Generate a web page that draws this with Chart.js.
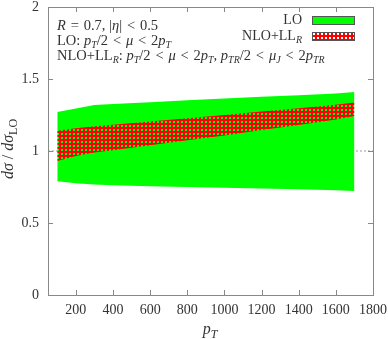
<!DOCTYPE html>
<html lang="en">
<head>
<meta charset="UTF-8">
<title>LO / NLO+LL ratio</title>
<style>
  body { margin: 0; background: #fff; }
  #wrap { width: 388px; height: 339px; }
</style>
</head>
<body>
<div id="wrap"><canvas id="myChart" width="388" height="339"></canvas></div>
<script src="https://cdn.jsdelivr.net/npm/chart.js"></script>
<script>
// data
var ptValues = [100, 200, 300, 400, 600, 800, 1000, 1200, 1400, 1600, 1700];
var loUpper  = [1.27, 1.295, 1.32, 1.326, 1.339, 1.352, 1.364, 1.376, 1.387, 1.399, 1.41];
var loLower  = [0.79, 0.776, 0.768, 0.762, 0.756, 0.750, 0.745, 0.740, 0.734, 0.728, 0.723];
var nloUpper = [1.14, 1.158, 1.172, 1.182, 1.205, 1.228, 1.25, 1.275, 1.297, 1.322, 1.337];
var nloLower = [0.93, 0.965, 0.99, 1.005, 1.04, 1.075, 1.108, 1.145, 1.18, 1.218, 1.243];
var xTicks = [200, 400, 600, 800, 1000, 1200, 1400, 1600, 1800];
var yTicks = [0, 0.5, 1, 1.5, 2];
var xRange = [50, 1800];
var yRange = [0, 2];
var refLevel = 1;

var serif = '"Liberation Serif", "DejaVu Serif", serif';
var textColor = '#333';
var frameColor = '#888';
var sp = '\u2004'; // math-ish spacing round relations

function pts(ys) {
    return ptValues.map(function (x, i) { return { x: x, y: ys[i] }; });
}

// red cross-hatch, holes let the green show through
var tile = document.createElement('canvas');
tile.width = 4; tile.height = 4;
var tctx = tile.getContext('2d');
tctx.fillStyle = '#ff0000';
tctx.fillRect(0, 0, 4, 4);
tctx.clearRect(1, 1, 2, 2);
var hatch = document.getElementById('myChart').getContext('2d').createPattern(tile, 'repeat');

// draw text made of pieces: r roman, i italic, rsub / isub subscripts
function drawRich(ctx, x, y, parts, size, align) {
    function fontFor(s) {
        var sub = s.indexOf('sub') >= 0;
        var sz = sub ? Math.round(size * 0.72) : size;
        return (s[0] == 'i' ? 'italic ' : '') + sz + 'px ' + serif;
    }
    var w = 0;
    parts.forEach(function (p) { ctx.font = fontFor(p[1]); w += ctx.measureText(p[0]).width; });
    var cx = x;
    if (align == 'right') cx = x - w;
    if (align == 'center') cx = x - w / 2;
    ctx.textAlign = 'left';
    ctx.textBaseline = 'alphabetic';
    parts.forEach(function (p) {
        ctx.font = fontFor(p[1]);
        var dy = p[1].indexOf('sub') >= 0 ? size * 0.22 : 0;
        ctx.fillText(p[0], cx, y + dy);
        cx += ctx.measureText(p[0]).width;
    });
}

var decorPlugin = {
    id: 'decor',
    afterDraw: function (chart) {
        var ctx = chart.ctx;
        var a = chart.chartArea;
        var xs = chart.scales.x, ys = chart.scales.y;
        ctx.save();
        // frame + inner ticks on all sides
        ctx.strokeStyle = frameColor;
        ctx.lineWidth = 1;
        ctx.strokeRect(Math.round(a.left) + 0.5, Math.round(a.top) + 0.5,
            Math.round(a.right - a.left), Math.round(a.bottom - a.top));
        ctx.beginPath();
        xTicks.forEach(function (v) {
            var px = Math.round(xs.getPixelForValue(v)) + 0.5;
            ctx.moveTo(px, a.bottom); ctx.lineTo(px, a.bottom - 5);
            ctx.moveTo(px, a.top); ctx.lineTo(px, a.top + 5);
        });
        yTicks.forEach(function (v) {
            var py = Math.round(ys.getPixelForValue(v)) + 0.5;
            ctx.moveTo(a.left, py); ctx.lineTo(a.left + 5, py);
            ctx.moveTo(a.right, py); ctx.lineTo(a.right - 5, py);
        });
        ctx.stroke();

        ctx.fillStyle = textColor;
        // info text
        var fs = 14.5;
        drawRich(ctx, 57, 30, [['R', 'i'], [sp + '=' + sp + '0.7, |', 'r'], ['η', 'i'],
            ['|' + sp + '<' + sp + '0.5', 'r']], fs);
        drawRich(ctx, 57, 45, [['LO: ', 'r'], ['p', 'i'], ['T', 'isub'], ['/2' + sp + '<' + sp, 'r'], ['μ', 'i'],
            [sp + '<' + sp + '2', 'r'], ['p', 'i'], ['T', 'isub']], fs);
        drawRich(ctx, 57, 60, [['NLO+LL', 'r'], ['R', 'isub'], [': ', 'r'], ['p', 'i'], ['T', 'isub'],
            ['/2' + sp + '<' + sp, 'r'], ['μ', 'i'], [sp + '<' + sp + '2', 'r'], ['p', 'i'], ['T', 'isub'], [', ', 'r'],
            ['p', 'i'], ['TR', 'isub'], ['/2' + sp + '<' + sp, 'r'], ['μ', 'i'], ['J', 'isub'], [sp + '<' + sp + '2', 'r'],
            ['p', 'i'], ['TR', 'isub']], fs);

        // legend
        drawRich(ctx, 302, 24, [['LO', 'r']], 14, 'right');
        drawRich(ctx, 302, 40, [['NLO+LL', 'r'], ['R', 'isub']], 14, 'right');
        ctx.fillStyle = '#00ff00';
        ctx.fillRect(312, 16, 42, 8);
        ctx.fillStyle = '#fff';
        ctx.fillRect(312, 32, 42, 8);
        ctx.fillStyle = hatch;
        ctx.fillRect(312, 32, 42, 8);
        ctx.strokeStyle = '#555';
        ctx.strokeRect(312.5, 16.5, 42, 8);
        ctx.strokeRect(312.5, 32.5, 42, 8);

        // axis titles
        ctx.fillStyle = textColor;
        drawRich(ctx, 210, 334, [['p', 'i'], ['T', 'isub']], 16, 'center');
        ctx.translate(13, 149);
        ctx.rotate(-Math.PI / 2);
        drawRich(ctx, 0, 0, [['dσ', 'i'], [' / ', 'r'], ['dσ', 'i'], ['LO', 'rsub']], 16, 'center');
        ctx.restore();
    }
};

function noOverflow(s) {
    s.paddingTop = 0; s.paddingBottom = 0; s.paddingLeft = 0; s.paddingRight = 0;
}

var ctx01 = document.getElementById('myChart');
var mychart = new Chart(ctx01, {
    type: 'line',
    data: {
        datasets: [
            { label: 'NLO+LL_R', data: pts(nloUpper), fill: '+1', backgroundColor: hatch,
              borderColor: 'rgba(0,0,0,0)', borderWidth: 1, pointRadius: 0 },
            { label: 'nlo lower', data: pts(nloLower), fill: false,
              borderColor: 'rgba(0,0,0,0)', borderWidth: 1, pointRadius: 0 },
            { label: 'LO', data: pts(loUpper), fill: '+1', backgroundColor: '#00ff00',
              borderColor: 'rgba(0,0,0,0)', borderWidth: 1, pointRadius: 0 },
            { label: 'lo lower', data: pts(loLower), fill: false,
              borderColor: 'rgba(0,0,0,0)', borderWidth: 1, pointRadius: 0 },
            { label: 'ref', data: [{ x: xRange[0], y: refLevel }, { x: xRange[1], y: refLevel }],
              fill: false, borderColor: '#999', borderWidth: 1, borderDash: [2, 2], pointRadius: 0 }
        ]
    },
    options: {
        responsive: false,
        animation: false,
        layout: { padding: { top: 7, right: 15, left: 0, bottom: 0 } },
        plugins: { legend: { display: false }, tooltip: { enabled: false } },
        scales: {
            x: {
                type: 'linear', min: xRange[0], max: xRange[1],
                grid: { display: false, drawTicks: false },
                border: { display: false },
                ticks: { font: { family: serif, size: 14 }, color: textColor, padding: 7,
                    maxRotation: 0, autoSkip: false, callback: function (v) { return String(v); } },
                afterBuildTicks: function (s) { s.ticks = xTicks.map(function (v) { return { value: v }; }); },
                afterFit: function (s) { s.height = 44; noOverflow(s); }
            },
            y: {
                type: 'linear', min: yRange[0], max: yRange[1],
                grid: { display: false, drawTicks: false },
                border: { display: false },
                ticks: { font: { family: serif, size: 14 }, color: textColor, padding: 9,
                    callback: function (v) { return String(v); } },
                afterBuildTicks: function (s) { s.ticks = yTicks.map(function (v) { return { value: v }; }); },
                afterFit: function (s) { s.width = 48; noOverflow(s); }
            }
        }
    },
    plugins: [decorPlugin]
});
</script>
</body>
</html>
